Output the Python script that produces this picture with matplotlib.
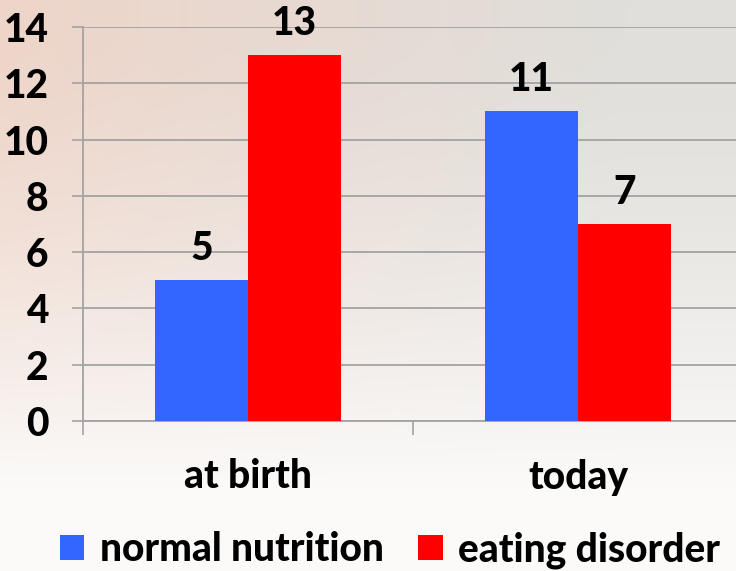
import numpy as np
import matplotlib
matplotlib.use("Agg")
import matplotlib.pyplot as plt
from matplotlib.patches import Patch

plt.rcParams['font.family'] = ['Lato', 'DejaVu Sans']
plt.rcParams['font.weight'] = 'black'

categories = ["at birth", "today"]
series_names = ["normal nutrition", "eating disorder"]
normal_nutrition = [5, 11]
eating_disorder = [13, 7]
y_ticks = [0, 2, 4, 6, 8, 10, 12, 14]

colors = ["#3366FF", "#FF0000"]
grid_gray = "#a3a3a3"
dpi = 100
W, H = 736, 571
FS = 28

fig = plt.figure(figsize=(W / dpi, H / dpi), dpi=dpi)

# soft background: peach on the left, light grey on the right, fading to white at the bottom
bg = fig.add_axes([0, 0, 1, 1], zorder=-10)
xx, yy = np.meshgrid(np.linspace(0, 1, 200), np.linspace(0, 1, 200))
left = np.array([238, 213, 201]) / 255
right = np.array([224, 223, 219]) / 255
white = np.array([251, 250, 249]) / 255
hx = np.clip(xx / 0.85, 0, 1)[..., None]
base = left * (1 - hx) + right * hx
vy = np.clip((yy - 0.05) / 0.8, 0, 1)[..., None] ** 1.5
img = base * (1 - vy) + white * vy
bg.imshow(img, extent=[0, 1, 0, 1], aspect='auto', origin='upper')
bg.axis('off')

ax = fig.add_axes([83 / W, 150 / H, 660 / W, 394 / H])
ax.patch.set_alpha(0)

x = np.arange(len(categories))
bw = 0.282
b1 = ax.bar(x - bw / 2, normal_nutrition, bw, color=colors[0], label=series_names[0], zorder=3)
b2 = ax.bar(x + bw / 2, eating_disorder, bw, color=colors[1], label=series_names[1], zorder=3)

for bars, vals in ((b1, normal_nutrition), (b2, eating_disorder)):
    for r, v in zip(bars, vals):
        ax.annotate(str(v), (r.get_x() + r.get_width() / 2, v), xytext=(0, 23),
                    textcoords='offset points', ha='center', va='center',
                    fontsize=FS, fontweight='black', color='black')

ax.set_ylim(0, 14)
ax.set_xlim(-0.5, 1.5)
ax.set_yticks(y_ticks)
ax.set_yticklabels([str(t) for t in y_ticks])
ax.yaxis.grid(True, color=grid_gray, linewidth=1.3, zorder=0)
ax.set_axisbelow(True)
ax.tick_params(axis='y', length=8, width=1.2, color=grid_gray, pad=17,
               labelsize=FS)

ax.set_xticks([-0.5, 0.5, 1.5])
ax.set_xticklabels([])
ax.set_xticks(x, minor=True)
ax.set_xticklabels(categories, minor=True)
ax.tick_params(axis='x', which='major', direction='out', length=10, width=1.2, color=grid_gray)
ax.tick_params(axis='x', which='minor', length=0, pad=27, labelsize=FS)

for s in ('top', 'right'):
    ax.spines[s].set_visible(False)
for s in ('left', 'bottom'):
    ax.spines[s].set_color(grid_gray)
    ax.spines[s].set_linewidth(1.3)

handles = [Patch(facecolor=colors[0]), Patch(facecolor=colors[1])]
fig.legend(handles, series_names, loc='center', bbox_to_anchor=(390 / W, 1 - 550 / H),
           ncol=2, frameon=False, fontsize=FS, handlelength=0.62, handleheight=0.62,
           handletextpad=0.4, columnspacing=0.9, borderaxespad=0)

fig.savefig("out.png", dpi=dpi)
